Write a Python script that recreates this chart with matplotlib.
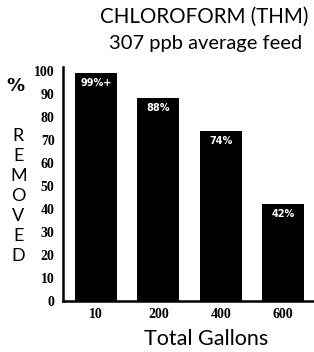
import matplotlib.pyplot as plt

# datos del grafico
galones = ['10', '200', '400', '600']
removido = [99, 88, 74, 42]
etiquetas = ['99%+', '88%', '74%', '42%']
yticks = [0, 10, 20, 30, 40, 50, 60, 70, 80, 90, 100]

fig = plt.figure(figsize=(3.14, 3.52), dpi=100)
ax = fig.add_axes([0.2006, 0.145, 0.796, 0.665])

pos = range(len(galones))
barras = ax.bar(pos, removido, width=0.67, color='black')

for b, txt in zip(barras, etiquetas):
    ax.text(b.get_x() + b.get_width() / 2, b.get_height() - 2.2, txt,
            color='white', ha='center', va='top', fontsize=7,
            fontweight='bold', family='DejaVu Sans')

ax.set_xlim(-0.53, 3.48)
ax.set_ylim(0, 101.7)
ax.set_yticks(yticks)
ax.set_yticklabels([str(v) for v in yticks], fontsize=10, fontweight='bold',
                   family='Liberation Serif')
ax.set_xticks(list(pos))
ax.set_xticklabels(galones, fontsize=10, fontweight='bold', family='Liberation Serif')
ax.tick_params(axis='y', length=0, pad=6)
ax.tick_params(axis='x', length=0, pad=5)

for s in ['top', 'right']:
    ax.spines[s].set_visible(False)
ax.spines['left'].set_linewidth(1.8)
ax.spines['bottom'].set_linewidth(1.8)

# titulo del eje x, debajo de las etiquetas
fig.text(0.655, 0.02, 'Total Gallons', fontsize=15.5, family='Lato',
         ha='center', va='baseline')

# etiqueta vertical del eje y
fig.text(0.05, 0.756, '%', fontsize=13, fontweight='bold', ha='center', va='center',
         family='DejaVu Sans')
fig.text(0.058, 0.443, 'R\nE\nM\nO\nV\nE\nD', fontsize=13, ha='center', va='center',
         family='Lato', linespacing=1.3)

fig.text(0.65, 0.952, 'CHLOROFORM (THM)', fontsize=14.8, ha='center', va='center', family='Lato')
fig.text(0.655, 0.876, '307 ppb average feed', fontsize=14.5, ha='center', va='center', family='Lato')

plt.savefig('out.png', dpi=100)
